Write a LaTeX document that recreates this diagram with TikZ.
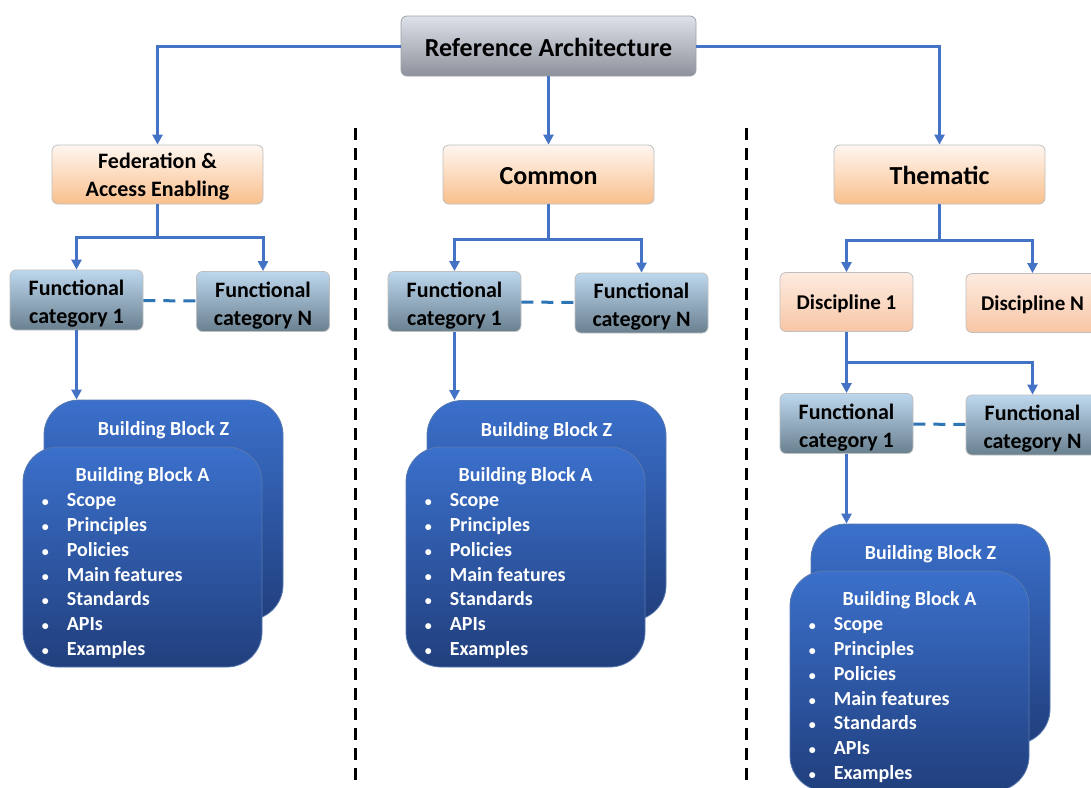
\documentclass[tikz,border=0pt]{standalone}
\usepackage{fontspec}
\setmainfont{Carlito}
\usetikzlibrary{arrows.meta,positioning}
\definecolor{linkblue}{HTML}{4472C4}
\definecolor{dashblue}{HTML}{2E75B6}
\definecolor{roottop}{HTML}{DDE2EA}
\definecolor{rootbot}{HTML}{8C919B}
\definecolor{rootedge}{HTML}{9EA2A8}
\definecolor{areatop}{HTML}{FFF6F0}
\definecolor{areabot}{HTML}{F9BF8C}
\definecolor{catop}{HTML}{BDD7EE}
\definecolor{catbot}{HTML}{69808F}
\definecolor{disctop}{HTML}{FDEBE0}
\definecolor{discbot}{HTML}{F8C6A6}
\definecolor{boxedge}{HTML}{BFBFBF}
\definecolor{blocktop}{HTML}{3B70CB}
\definecolor{blockbot}{HTML}{213F7D}
\definecolor{blockedge}{HTML}{5878B0}
\tikzset{
>={Triangle[length=10pt,width=10pt]},
  rootbox/.style={
    rectangle,
    rounded corners=6pt,
    draw=rootedge, line width=0.8pt,
    top color=roottop,
    bottom color=rootbot,
    minimum width=295pt,
    minimum height=60pt,
    inner sep=0pt,
    execute at begin node={\rule{0pt}{0.78em}},
    font=\bfseries\fontsize{26}{30}\selectfont},
  areabox/.style={
    rectangle,
    rounded corners=6pt,
    draw=boxedge, line width=0.8pt,
    top color=areatop,
    bottom color=areabot,
    minimum width=211pt,
    minimum height=59pt,
    inner sep=0pt,
    align=center,
    execute at begin node={\rule{0pt}{0.8em}},
    font=\bfseries\fontsize{22}{28}\selectfont},
  catbox/.style={
    rectangle,
    rounded corners=6pt,
    draw=boxedge, line width=0.8pt,
    top color=catop,
    bottom color=catbot,
    minimum width=133pt,
    minimum height=60pt,
    inner sep=0pt,
    align=center,
    font=\bfseries\fontsize{22}{28}\selectfont},
  discbox/.style={
    rectangle,
    rounded corners=6pt,
    draw=boxedge, line width=0.8pt,
    top color=disctop,
    bottom color=discbot,
    minimum width=133pt,
    minimum height=59pt,
    inner sep=0pt,
    execute at begin node={\rule{0pt}{0.88em}},
    font=\bfseries\fontsize{21}{26}\selectfont},
  blockbox/.style={
    rectangle,
    rounded corners=35pt,
    draw=blockedge, line width=0.8pt,
    top color=blocktop,
    bottom color=blockbot,
    minimum width=239pt,
    minimum height=220pt},
  blocktitle/.style={text=white, inner sep=0pt,
    font=\bfseries\fontsize{20}{24}\selectfont},
  blocklist/.style={text=white, inner sep=0pt, align=left, anchor=north west,
    font=\bfseries\fontsize{20}{24.7}\selectfont},
  link/.style={draw=linkblue, line width=3pt, ->},
  dashlink/.style={draw=dashblue, line width=3pt, dash pattern=on 12pt off 8pt},
  divider/.style={draw=black, line width=3pt, dash pattern=on 12pt off 8pt},
}
\newcommand{\twolines}[3]{\rule{0pt}{#1}#2\\#3}
\newcommand{\bbitem}[1]{\makebox[26pt][l]{\hspace{1pt}{\fontsize{14}{14}\selectfont\textbullet}}#1}
\newcommand{\bbitems}{\bbitem{Scope}\\\bbitem{Principles}\\\bbitem{Policies}\\
  \bbitem{Main features}\\\bbitem{Standards}\\\bbitem{APIs}\\\bbitem{Examples}}

\begin{document}
\begin{tikzpicture}[x=1pt,y=-1pt]
\useasboundingbox (0,0) rectangle (1091,787);
% separators between the three areas
\draw[divider] (355,128) -- (355,787);
\draw[divider] (746,128) -- (746,787);

\node[rootbox] (root) at (548.5,46) {Reference Architecture};

\node[areabox] (fed) at (157.5,174.5) {\twolines{0.87em}{Federation \&}{Access Enabling}};
\node[areabox, font=\bfseries\fontsize{26}{30}\selectfont] (common) at (548.5,174.5) {Common};
\node[areabox, font=\bfseries\fontsize{26}{30}\selectfont] (them) at (939.5,174.5) {Thematic};

\draw[link] (root.west) -| (fed.north);
\draw[link] (root.south) -- (common.north);
\draw[link] (root.east) -| (them.north);

% federation & access enabling
\node[catbox] (fedcat1) at (76.5,300) {\twolines{1.04em}{Functional}{category 1}};
\node[catbox] (fedcatn) at (263,301.5) {\twolines{1.04em}{Functional}{category N}};
\draw[link] (fed.south) -- ++(0,33) -| (fedcat1.north);
\draw[link] (fed.south) -- ++(0,33) -| (fedcatn.north);
\draw[dashlink] (fedcat1) -- (fedcatn);

\node[blockbox] (fedbbz) at (163.5,510) {};
\node[blocktitle] (fedbbzt) at ([yshift=-31pt]fedbbz.north) {Building Block Z};
\node[blockbox] (fedbba) at (142.5,557) {};
\node[blocktitle] (fedbbat) at ([yshift=-30pt]fedbba.north) {Building Block A};
\node[blocklist] (fedlist) at ([xshift=18pt,yshift=-47pt]fedbba.north west) {\bbitems};
\draw[link] (fedcat1.south) -- (fedcat1.south |- fedbbz.north);

% common
\node[catbox] (comcat1) at (454.5,301.5) {\twolines{1.04em}{Functional}{category 1}};
\node[catbox] (comcatn) at (641.5,303) {\twolines{1.04em}{Functional}{category N}};
\draw[link] (common.south) -- ++(0,35) -| (comcat1.north);
\draw[link] (common.south) -- ++(0,35) -| (comcatn.north);
\draw[dashlink] (comcat1) -- (comcatn);

\node[blockbox] (combbz) at (546.5,510.5) {};
\node[blocktitle] (combbzt) at ([yshift=-31pt]combbz.north) {Building Block Z};
\node[blockbox] (combba) at (525.5,557) {};
\node[blocktitle] (combbat) at ([yshift=-30pt]combba.north) {Building Block A};
\node[blocklist] (comlist) at ([xshift=18pt,yshift=-47pt]combba.north west) {\bbitems};
\draw[link] (comcat1.south) -- (comcat1.south |- combbz.north);

% thematic
\node[discbox] (disc1) at (846.5,302) {Discipline 1};
\node[discbox] (discn) at (1032.5,303) {Discipline N};
\draw[link] (them.south) -- ++(0,36) -| (disc1.north);
\draw[link] (them.south) -- ++(0,36) -| (discn.north);

\node[catbox] (themcat1) at (846.5,423.5) {\twolines{1.04em}{Functional}{category 1}};
\node[catbox] (themcatn) at (1032.5,425) {\twolines{1.04em}{Functional}{category N}};
\draw[link] (disc1.south) -- ++(0,31) -| (themcat1.north);
\draw[link] (disc1.south) -- ++(0,31) -| (themcatn.north);
\draw[dashlink] (themcat1) -- (themcatn);

\node[blockbox] (thembbz) at (930.5,634) {};
\node[blocktitle] (thembbzt) at ([yshift=-31pt]thembbz.north) {Building Block Z};
\node[blockbox] (thembba) at (909.5,681) {};
\node[blocktitle] (thembbat) at ([yshift=-30pt]thembba.north) {Building Block A};
\node[blocklist] (themlist) at ([xshift=18pt,yshift=-47pt]thembba.north west) {\bbitems};
\draw[link] (themcat1.south) -- (themcat1.south |- thembbz.north);
\end{tikzpicture}
\end{document}
